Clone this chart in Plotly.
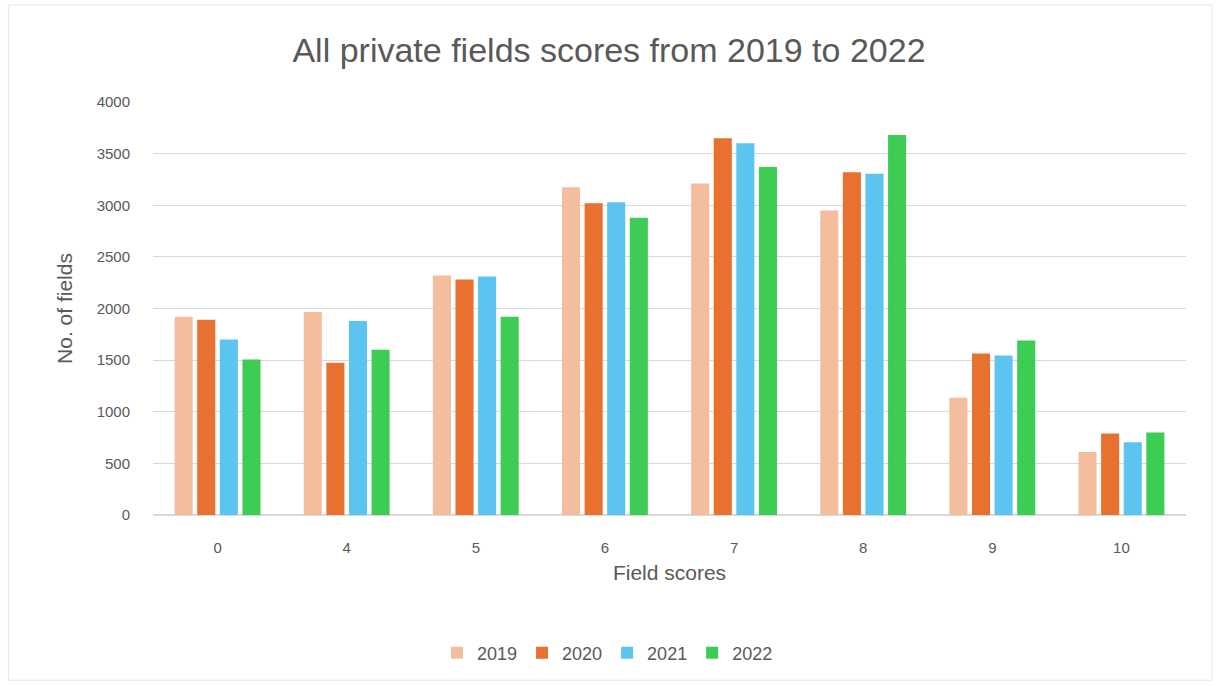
import plotly.graph_objects as go

scores = ["0", "4", "5", "6", "7", "8", "9", "10"]
years = ["2019", "2020", "2021", "2022"]
fields_2019 = [1920, 1965, 2320, 3175, 3210, 2950, 1135, 610]
fields_2020 = [1890, 1475, 2280, 3020, 3650, 3320, 1565, 790]
fields_2021 = [1700, 1880, 2310, 3030, 3600, 3305, 1545, 705]
fields_2022 = [1505, 1600, 1920, 2880, 3370, 3680, 1690, 800]
y_ticks = [0, 500, 1000, 1500, 2000, 2500, 3000, 3500, 4000]

series = [fields_2019, fields_2020, fields_2021, fields_2022]
colors = ["#F4BE9E", "#E9712F", "#5CC4F0", "#3DCD55"]

fig = go.Figure()
for name, vals, col in zip(years, series, colors):
    fig.add_trace(go.Bar(x=scores, y=vals, name=name, marker_color=col,
                         marker_line_width=0))

font_family = "Liberation Sans, Arial, sans-serif"
fig.update_layout(
    width=1218, height=686,
    paper_bgcolor="white", plot_bgcolor="white",
    barmode="group", bargap=0.3, bargroupgap=0.2,
    margin=dict(l=153, r=32, t=102, b=171),
    font=dict(family=font_family, color="#595959", size=15),
    title=dict(text="All private fields scores from 2019 to 2022",
               x=0.5, xanchor="center", y=0.927, yanchor="middle",
               font=dict(size=34, color="#595959")),
    legend=dict(orientation="h", x=0.44, xanchor="center", y=-0.334,
                yanchor="middle", font=dict(size=18, color="#595959"),
                itemwidth=30, traceorder="normal"),
    xaxis=dict(title=dict(text="Field scores", font=dict(size=21), standoff=10),
               showgrid=False, showline=False, ticks="",
               ticklabelstandoff=22, tickfont=dict(size=15)),
    yaxis=dict(title=dict(text="No. of fields", font=dict(size=21), standoff=18),
               range=[0, 4000], tickvals=y_ticks,
               gridcolor="#D9D9D9", gridwidth=1, zeroline=True,
               zerolinecolor="#D9D9D9", ticks="",
               ticklabelstandoff=22, tickfont=dict(size=15)),
    shapes=[dict(type="rect", xref="paper", yref="paper",
                 x0=-0.140, x1=1.025, y0=-0.4, y1=1.235,
                 line=dict(color="#E6E6E6", width=1))],
)

fig.write_html("out.html")
